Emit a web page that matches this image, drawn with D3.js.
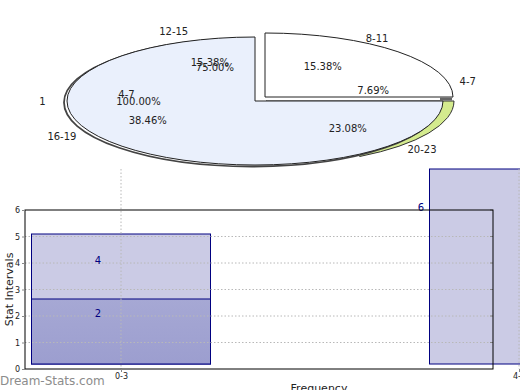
<!DOCTYPE html>
<html>
<head>
<meta charset="utf-8">
<script src="https://cdn.jsdelivr.net/npm/d3@7/dist/d3.min.js"></script>
<style>
body { margin: 0; background: #fff; }
text { font-family: "DejaVu Sans", sans-serif; }
</style>
</head>
<body>
<div id="chart"></div>
<script>
//---------------------------- data ----------------------------
// pie: hour ranges and their counts (clockwise)
var pieCats = ["8-11", "4-7", "20-23", "16-19", "12-15"];
var pieCounts = [2, 1, 3, 5, 2];
// drawn wedges of the front pie (white, blue)
var frontShares = [1, 3];
// the hidden back wedge (green) sits between these shares
var backShares = [3, 2, 7];
// single slice overlay
var overlayCats = ["1"];
var overlayCounts = [1];
var ghostCat = "4-7";

// bars
var barCats = ["0-3", "4-7"];
var barTall = [4, 6];
var barShort = [2, 0];
var yTicks = [0, 1, 2, 3, 4, 5, 6];

//---------------------------- svg ----------------------------
var W = 520, H = 390;
var svg = d3.select("#chart").append("svg")
	.attr("width", W)
	.attr("height", H);

//---------------------------- pie ----------------------------
var cx = 255, cy = 101, rx = 188, ry = 64;
var deg = Math.PI / 180;
var arc = d3.arc().innerRadius(0).outerRadius(rx);

function ell(a, r) {
	return [cx + r * rx * Math.sin(a), cy - r * ry * Math.cos(a)];
}
function sector(g, d, dx, dy, fill, stroke, sw) {
	return g.append("path")
		.attr("d", arc(d))
		.attr("transform", "translate(" + (cx + dx) + "," + (cy + dy) + ") scale(1," + (ry / rx) + ")")
		.attr("fill", fill)
		.attr("stroke", stroke)
		.attr("stroke-width", sw || 1)
		.attr("vector-effect", "non-scaling-stroke");
}

var pieG = svg.append("g");
var front = d3.pie().sort(null)(frontShares);
var back = d3.pie().sort(null)(backShares);

// green wedge behind, pushed right
sector(pieG, back[1], 11, 0, "#d4eb8e", "#333");
// shadow of blue wedge
sector(pieG, front[1], -3, 1.5, "#fff", "#444", 1.8);
// blue wedge
sector(pieG, front[1], 0, 0, "#eaf0fc", "#222");
// white exploded wedge
sector(pieG, front[0], 10, -4, "#fff", "#222");
// thin dark edge where wedges meet
pieG.append("line")
	.attr("x1", cx + rx - 3).attr("x2", cx + rx + 9)
	.attr("y1", cy - 2).attr("y2", cy - 2)
	.attr("stroke", "#666").attr("stroke-width", 3);

var total = d3.sum(pieCounts);
var pieArcs = d3.pie().sort(null)
	.startAngle(6 * deg).endAngle(366 * deg)(pieCounts);

var labelG = svg.append("g").attr("font-size", 10).attr("fill", "#222")
	.attr("text-anchor", "middle").attr("dominant-baseline", "central");

pieArcs.forEach(function(d, i) {
	var mid = (d.startAngle + d.endAngle) / 2;
	var po = ell(mid, 1.17), pi = ell(mid, 0.65);
	labelG.append("text").attr("x", po[0]).attr("y", po[1]).text(pieCats[i]);
	labelG.append("text").attr("x", pi[0]).attr("y", pi[1])
		.text((pieCounts[i] / total * 100).toFixed(2) + "%");
});

// single-slice overlay labels
var overlayArcs = d3.pie().startAngle(Math.PI).endAngle(2 * Math.PI)(overlayCounts);
overlayArcs.forEach(function(d, i) {
	var mid = (d.startAngle + d.endAngle) / 2;
	var po = ell(mid, 1.13), pi = ell(mid, 0.62);
	labelG.append("text").attr("x", po[0]).attr("y", pi[1]).text(overlayCats[i]);
	labelG.append("text").attr("x", pi[0]).attr("y", pi[1])
		.text((d.value / d3.sum(overlayCounts) * 100).toFixed(2) + "%");
});

// leftover labels of the front wedges
var gl1 = ell(278 * deg, 0.69), gl2 = ell(338 * deg, 0.57);
labelG.append("text").attr("x", gl1[0]).attr("y", gl1[1]).text(ghostCat);
labelG.append("text").attr("x", gl2[0]).attr("y", gl2[1])
	.text((frontShares[1] / d3.sum(frontShares) * 100).toFixed(2) + "%");

//---------------------------- bars ----------------------------
var frame = {left: 25, right: 493, top: 210, bottom: 369};
var x = d3.scalePoint().domain(barCats).range([121, 519]);
var xLab = d3.scalePoint().domain(barCats).range([98, 421]);
var y = d3.scaleLinear().domain([0, 6]).range([frame.bottom, frame.top]);
var yBar = d3.scaleLinear().domain([0, 6]).range([364, 169]);
var barW = 179;

var defs = svg.append("defs");
var grad = defs.append("linearGradient").attr("id", "darkBar")
	.attr("x1", 0).attr("y1", 0).attr("x2", 0).attr("y2", 1);
grad.append("stop").attr("offset", 0).attr("stop-color", "#a6a8d4");
grad.append("stop").attr("offset", 1).attr("stop-color", "#9c9ecf");

var barG = svg.append("g");
barG.selectAll(".tall").data(barCats).enter().append("rect")
	.attr("class", "tall")
	.attr("x", function(d) { return x(d) - barW / 2; })
	.attr("width", barW)
	.attr("y", function(d, i) { return yBar(barTall[i]); })
	.attr("height", function(d, i) { return yBar(0) - yBar(barTall[i]); })
	.attr("fill", "#cbcbe5")
	.attr("stroke", "#000080");
barG.selectAll(".short").data(barCats.filter(function(d, i) { return barShort[i] > 0; }))
	.enter().append("rect")
	.attr("class", "short")
	.attr("x", function(d) { return x(d) - barW / 2; })
	.attr("width", barW)
	.attr("y", function(d) { return yBar(barShort[barCats.indexOf(d)]); })
	.attr("height", function(d) { return yBar(0) - yBar(barShort[barCats.indexOf(d)]); })
	.attr("fill", "url(#darkBar)")
	.attr("stroke", "#000080");

// grid
var gridG = svg.append("g").attr("stroke", "#b8b8b8").attr("stroke-dasharray", "1.5,2");
gridG.selectAll(".hg").data(yTicks.slice(1, -1)).enter().append("line")
	.attr("x1", frame.left).attr("x2", frame.right)
	.attr("y1", function(d) { return y(d); })
	.attr("y2", function(d) { return y(d); });
gridG.selectAll(".vg").data(barCats).enter().append("line")
	.attr("x1", function(d) { return x(d); })
	.attr("x2", function(d) { return x(d); })
	.attr("y1", yBar(6)).attr("y2", frame.bottom);

// right side tick marks
svg.append("g").selectAll("line").data(yTicks.slice(1)).enter().append("line")
	.attr("x1", frame.right - 3).attr("x2", frame.right)
	.attr("y1", function(d) { return y(d); })
	.attr("y2", function(d) { return y(d); })
	.attr("stroke", "#888");

// bar value labels
var valG = svg.append("g").attr("font-size", 10).attr("fill", "#000080").attr("text-anchor", "middle");
barCats.forEach(function(c, i) {
	[barShort[i], barTall[i]].forEach(function(v) {
		if (v > 0) valG.append("text").attr("x", xLab(c)).attr("y", y(v) + 1).text(v);
	});
});

// frame
svg.append("rect")
	.attr("x", frame.left).attr("y", frame.top)
	.attr("width", frame.right - frame.left)
	.attr("height", frame.bottom - frame.top)
	.attr("fill", "none").attr("stroke", "#000");

// axes
var yAxis = svg.append("g")
	.attr("transform", "translate(" + frame.left + ",0)")
	.call(d3.axisLeft(y).tickValues(yTicks).tickFormat(d3.format("d")).tickSize(3).tickPadding(2));
yAxis.select(".domain").remove();
yAxis.selectAll("line").attr("stroke", "#888");
yAxis.selectAll("text").attr("font-size", 8).attr("fill", "#222").attr("font-family", "DejaVu Sans");

var xAxis = svg.append("g")
	.attr("transform", "translate(0," + frame.bottom + ")")
	.call(d3.axisBottom(x).tickSize(3).tickPadding(1));
xAxis.select(".domain").remove();
xAxis.selectAll("line").attr("stroke", "#888");
xAxis.selectAll("text").attr("font-size", 8).attr("fill", "#222").attr("font-family", "DejaVu Sans");

// titles
svg.append("text")
	.attr("transform", "translate(13," + ((frame.top + frame.bottom) / 2) + ") rotate(-90)")
	.attr("text-anchor", "middle")
	.attr("font-size", 11)
	.attr("fill", "#222")
	.text("Stat Intervals");
svg.append("text")
	.attr("x", 319).attr("y", 392)
	.attr("text-anchor", "middle")
	.attr("font-size", 11)
	.attr("fill", "#222")
	.text("Frequency");
svg.append("text")
	.attr("x", 0).attr("y", 385)
	.attr("font-size", 12)
	.attr("fill", "#8c8c8c")
	.text("Dream-Stats.com");
</script>
</body>
</html>
